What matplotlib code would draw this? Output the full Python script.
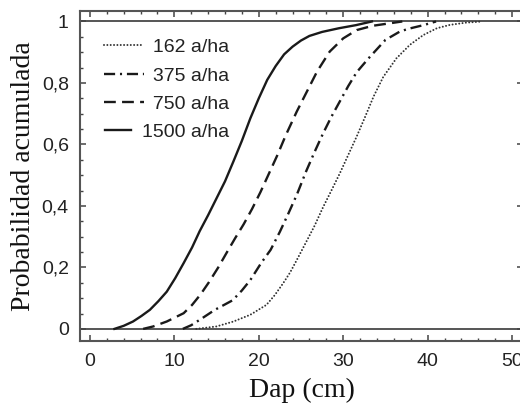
import matplotlib
matplotlib.use('Agg')
import numpy as np
import matplotlib.pyplot as plt
from matplotlib.ticker import MultipleLocator, FuncFormatter
from matplotlib.legend_handler import HandlerLine2D

plt.rcParams['lines.scale_dashes'] = False

# Data (Dap in cm, cumulative probability)
dap_1500 = [2.9, 4.0, 5.1, 6.1, 7.1, 8.1, 9.1, 10.1, 11.1, 12.1, 13.0, 14.0, 15.0, 16.0, 17.0,
            18.0, 19.0, 20.0, 21.0, 22.0, 23.0, 24.0, 25.0, 26.0, 27.5, 29.5, 31.5, 33.4]
prob_1500 = [0.0, 0.01, 0.024, 0.042, 0.062, 0.09, 0.121, 0.165, 0.214, 0.265, 0.318, 0.37, 0.425, 0.48, 0.545,
             0.612, 0.685, 0.75, 0.81, 0.855, 0.893, 0.918, 0.938, 0.953, 0.966, 0.978, 0.988, 1.0]

dap_750 = [6.3, 7.5, 9.1, 11.1, 12.1, 13.1, 14.1, 15.2, 16.2, 17.2, 18.2, 19.2, 20.2, 21.2, 22.2,
           23.2, 24.5, 25.7, 26.9, 28.4, 30.0, 31.6, 33.5, 35.5, 37.0]
prob_750 = [0.0, 0.008, 0.024, 0.051, 0.078, 0.112, 0.152, 0.2, 0.248, 0.295, 0.34, 0.39, 0.445, 0.505, 0.565,
            0.63, 0.707, 0.772, 0.837, 0.902, 0.945, 0.972, 0.986, 0.994, 1.0]

dap_375 = [11.0, 12.0, 13.2, 14.8, 16.9, 18.0, 19.0, 20.3, 21.4, 22.5, 23.5, 24.5, 25.6, 26.6, 27.6,
           28.6, 29.6, 30.6, 31.6, 33.0, 35.0, 36.7, 37.7, 39.5, 41.0]
prob_375 = [0.0, 0.012, 0.033, 0.062, 0.093, 0.125, 0.159, 0.215, 0.257, 0.316, 0.375, 0.436, 0.512, 0.575, 0.635,
            0.69, 0.74, 0.79, 0.835, 0.88, 0.94, 0.967, 0.976, 0.988, 1.0]

dap_162 = [12.6, 15.0, 17.0, 19.0, 20.9, 21.9, 22.9, 23.7, 24.5, 25.6, 26.6, 27.6, 28.6, 29.6, 30.6,
           31.6, 32.6, 33.6, 34.75, 36.3, 37.9, 39.5, 41.1, 42.65, 44.5, 46.5]
prob_162 = [0.0, 0.008, 0.024, 0.046, 0.078, 0.11, 0.149, 0.183, 0.224, 0.282, 0.335, 0.395, 0.45, 0.506, 0.566,
            0.626, 0.69, 0.756, 0.82, 0.88, 0.924, 0.956, 0.978, 0.989, 0.996, 1.0]

labels = ['\u2007162 a/ha', '\u2007375 a/ha', '\u2007750 a/ha', '1500 a/ha']
x_ticks = [0, 10, 20, 30, 40, 50]
y_ticks = [0, 0.2, 0.4, 0.6, 0.8, 1.0]

sans = ['Liberation Sans', 'DejaVu Sans']
serif = ['Liberation Serif', 'DejaVu Serif']


class ShortHandler(HandlerLine2D):
    """Legend handle drawn shorter at its right end (as for the 1500 a/ha entry)."""
    def get_xdata(self, legend, xdescent, ydescent, width, height, fontsize):
        xd, xm = super().get_xdata(legend, xdescent, ydescent, width, height, fontsize)
        xd = np.array([xd[0] + 0.03 * (xd[-1] - xd[0]), xd[0] + 0.68 * (xd[-1] - xd[0])])
        return xd, xm


fig = plt.figure(figsize=(5.2, 4.05), dpi=100)
ax = fig.add_axes([0.1538, 0.1568, 0.852, 0.816])
ax.set_xlim(-1.18, 51.3)
ax.set_ylim(-0.041, 1.034)

ax.axhline(0, color='#555555', lw=1.4, zorder=1)
ax.axhline(1, color='#555555', lw=1.4, zorder=1)

l162, = ax.plot(dap_162, prob_162, color='#333333', lw=1.45, dashes=(0.01, 2.4),
                dash_capstyle='round', label=labels[0])
l375, = ax.plot(dap_375, prob_375, color='#1a1a1a', lw=1.7, dashes=(8, 3.5, 1.5, 3.5), label=labels[1])
l750, = ax.plot(dap_750, prob_750, color='#1a1a1a', lw=1.7, dashes=(8.5, 4.5), label=labels[2])
l1500, = ax.plot(dap_1500, prob_1500, color='#1a1a1a', lw=1.7, label=labels[3])

ax.set_xticks(x_ticks)
ax.set_yticks(y_ticks)
ax.xaxis.set_minor_locator(MultipleLocator(2))
ax.yaxis.set_minor_locator(MultipleLocator(0.05))
ax.yaxis.set_major_formatter(FuncFormatter(lambda v, p: ('%g' % round(v, 2)).replace('.', ',')))

ax.tick_params(which='both', direction='in', top=True, right=True, colors='#444444', labelcolor='#222222')
ax.tick_params(which='major', length=4, width=1.1, pad=8)
ax.tick_params(which='minor', length=2.3, width=1.0)
for lab in ax.get_xticklabels() + ax.get_yticklabels():
    lab.set_fontfamily(sans)
    lab.set_fontsize(14)

for sp in ax.spines.values():
    sp.set_color('#555555')
    sp.set_linewidth(1.5)

ax.set_xlabel('Dap (cm)', fontfamily=serif, fontsize=20, labelpad=6, color='#111111')
ax.set_ylabel('Probabilidad acumulada', fontfamily=serif, fontsize=20, labelpad=4, color='#111111')

leg = ax.legend(handles=[l162, l375, l750, l1500], loc='upper left', bbox_to_anchor=(0.036, 0.94),
                frameon=False, prop={'family': sans, 'size': 14}, handlelength=2.05,
                handletextpad=-0.1, labelspacing=0.55, borderaxespad=0.0,
                handler_map={l1500: ShortHandler()})
for t in leg.get_texts():
    t.set_color('#222222')

fig.savefig('out.png', dpi=100)
